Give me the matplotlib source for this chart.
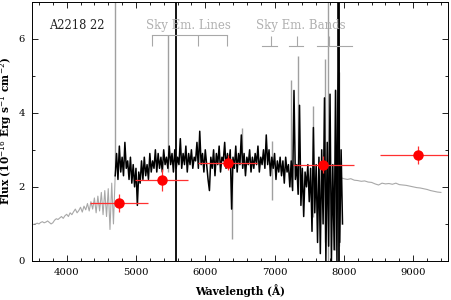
import numpy as np
import matplotlib
matplotlib.use("Agg")
import matplotlib.pyplot as plt
from matplotlib.ticker import MultipleLocator

# grey low-res spectrum, blue end (25 A steps from 3500)
grey_blue_wl = np.arange(3500, 4701, 25)
grey_blue_flux = [0.97, 0.99, 1.0, 1.02, 1.0, 1.04, 1.06, 1.03, 1.05, 1.08,
                  1.04, 1.0, 1.03, 1.1, 1.14, 1.12, 1.16, 1.2, 1.15, 1.22,
                  1.26, 1.2, 1.3, 1.25, 1.33, 1.4, 1.3, 1.36, 1.45, 1.32,
                  1.48, 1.38, 1.55, 1.35, 1.6, 1.4, 1.7, 1.3, 1.75, 1.35,
                  1.85, 1.25, 1.9, 1.2, 1.95, 0.85, 2.1, 1.0, 2.3]

# grey spectrum, red end (50 A steps from 7950)
grey_red_wl = np.arange(7950, 9401, 50)
grey_red_flux = [2.25, 2.22, 2.2, 2.22, 2.18, 2.17, 2.15, 2.16, 2.13, 2.12,
                 2.08, 2.05, 2.1, 2.08, 2.09, 2.07, 2.1, 2.06, 2.05, 2.04,
                 2.02, 2.0, 1.98, 1.97, 1.95, 1.93, 1.9, 1.88, 1.86, 1.85]

# grey spikes (sky residuals) : wavelength, low, high
grey_spike_wl = [4700, 5460, 6390, 6530, 6960, 7240, 7340, 7560, 7730, 7770, 7870, 7935]
grey_spike_lo = [2.5, 2.4, 0.6, 2.6, 1.65, 2.0, 1.8, 1.2, 0.5, 0.0, 0.3, 0.4]
grey_spike_hi = [7.0, 6.1, 2.6, 3.6, 3.25, 4.87, 5.54, 4.17, 5.45, 7.0, 4.65, 5.1]

# black spectrum (20 A steps from 4700)
black_wl = np.arange(4700, 7981, 20)
black_flux = [2.3, 2.9, 2.2, 3.1, 2.4, 2.8, 2.3, 3.2, 2.5, 2.7,
              2.2, 2.8, 2.1, 2.6, 2.0, 2.5, 1.5, 2.4, 2.1, 2.7,
              2.2, 2.8, 2.3, 2.6, 2.2, 2.9, 2.4, 2.7, 2.5, 3.0,
              2.4, 2.9, 2.5, 2.8, 2.4, 3.0, 2.6, 2.8, 2.5, 3.1,
              2.6, 2.9, 2.4, 3.0, 2.5, 2.8, 2.6, 3.3, 2.5, 2.9,
              2.6, 3.1, 2.4, 2.9, 2.6, 3.0, 2.5, 2.8, 2.7, 3.2,
              2.5, 3.5, 2.6, 2.9, 2.4, 3.0, 2.6, 2.2, 1.9, 2.8,
              2.5, 3.0, 2.3, 2.9, 2.6, 3.1, 2.4, 2.8, 2.7, 3.2,
              2.5, 2.9, 2.6, 3.0, 1.4, 2.8, 2.5, 3.1, 2.4, 2.9,
              2.6, 3.4, 2.5, 2.9, 2.3, 2.8, 2.6, 3.0, 2.4, 2.8,
              2.5, 2.9, 2.6, 3.1, 2.4, 2.8, 2.6, 3.0, 2.5, 3.4,
              2.6, 3.0, 2.3, 2.8, 2.5, 2.9, 2.2, 2.7, 2.4, 2.8,
              2.3, 2.7, 2.1, 2.8, 2.4, 2.6, 2.0, 2.7, 1.9, 4.6,
              2.2, 2.6, 1.8, 4.2, 1.5, 2.5, 1.2, 2.4, 2.0, 2.6,
              1.6, 2.5, 0.8, 3.6, 1.3, 2.6, 0.5, 2.8, 0.2, 3.0,
              1.0, 4.4, 0.0, 3.2, 0.4, 4.5, 0.0, 2.6, 0.3, 4.6,
              0.0, 7.2, 0.5, 3.0, 1.0]

# strong residual lines going through the full plot
strong_line_wl = [5580, 7930]

# photometry points
phot_wl = [4755, 5375, 6330, 7700, 9070]
phot_flux = [1.57, 2.18, 2.65, 2.6, 2.86]
phot_wl_lo = [4340, 4990, 5895, 7265, 8520]
phot_wl_hi = [5180, 5750, 6750, 8145, 9950]
phot_ferr = [0.25, 0.3, 0.2, 0.22, 0.25]

plt.rcParams['font.family'] = 'DejaVu Serif'

fig = plt.figure(figsize=(4.51, 3.0), dpi=100)
ax = fig.add_axes([0.071, 0.13, 0.922, 0.865])

ax.plot(grey_blue_wl, grey_blue_flux, color='#a8a8a8', lw=0.8)
ax.plot(grey_red_wl, grey_red_flux, color='#a8a8a8', lw=0.8)
ax.vlines(grey_spike_wl, grey_spike_lo, grey_spike_hi, color='#a0a0a0', lw=1.0)
ax.plot(black_wl, black_flux, color='black', lw=1.1)
ax.vlines(strong_line_wl, 0, 7, color='black', lw=1.3)

xerr = [np.array(phot_wl) - np.array(phot_wl_lo), np.array(phot_wl_hi) - np.array(phot_wl)]
ax.errorbar(phot_wl, phot_flux, xerr=xerr, yerr=phot_ferr, fmt='o', color='#ff0000',
            ecolor='#ff3030', elinewidth=0.9, capsize=0, markersize=6.5, zorder=5)

# annotations
ax.text(4150, 6.35, 'A2218 22', fontsize=8.3, color='#222222', ha='center', va='center')
ax.text(5750, 6.35, 'Sky Em. Lines', fontsize=8.5, color='#b0b0b0', ha='center', va='center')
ax.text(7380, 6.35, 'Sky Em. Bands', fontsize=8.5, color='#b0b0b0', ha='center', va='center')

bc = '#a8a8a8'
ax.plot([5230, 6315], [6.1, 6.1], color=bc, lw=0.8)
ax.vlines([5230, 5895, 6315], 5.8, 6.1, color=bc, lw=0.8)
for lo, hi, mid in [(6820, 7035, 6950), (7210, 7410, 7325), (7615, 8120, 7780)]:
    ax.plot([lo, hi], [5.8, 5.8], color=bc, lw=0.8)
    ax.vlines(mid, 5.8, 6.07, color=bc, lw=0.8)

ax.set_xlim(3500, 9500)
ax.set_ylim(0, 7)
ax.xaxis.set_major_locator(MultipleLocator(1000))
ax.xaxis.set_minor_locator(MultipleLocator(200))
ax.yaxis.set_major_locator(MultipleLocator(2))
ax.yaxis.set_minor_locator(MultipleLocator(1))
ax.tick_params(which='both', direction='in', top=True, right=True, labelsize=7.2, width=0.6)
ax.tick_params(which='major', length=4, pad=5)
ax.tick_params(which='minor', length=2)
for s in ax.spines.values():
    s.set_linewidth(0.7)

ax.set_xlabel('Wavelength (Å)', fontsize=7.6, fontweight='bold', labelpad=5)
ax.set_ylabel('Flux (10$^{-16}$ Erg s$^{-1}$ cm$^{-2}$)', fontsize=7.6, fontweight='bold', labelpad=3)

fig.savefig('out.png', dpi=100)
